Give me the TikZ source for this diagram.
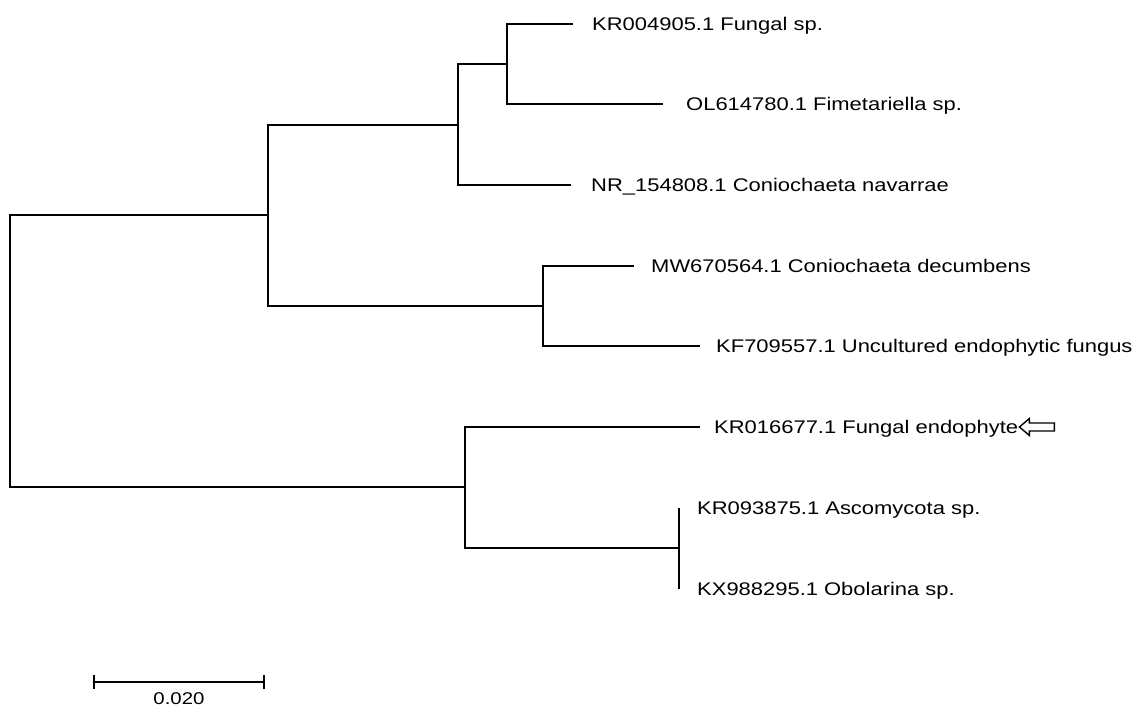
\documentclass[tikz,border=0pt]{standalone}
\usepackage{fontspec}
\setmainfont{Liberation Sans}[FakeStretch=1.2]
\usetikzlibrary{positioning}

\tikzset{
    branch/.style = {line width = 1.5pt, draw = black},
    leaf/.style = {anchor = west, inner xsep = 0pt, inner ysep = 0pt,
                   text height = 13pt, text depth = 0pt,
                   font = \fontsize{18.3}{21}\selectfont},
}

\begin{document}
\begin{tikzpicture}[x = 1pt, y = -1pt, node distance = 17pt]
            \useasboundingbox (0, 0) rectangle (1134, 715);

            % inner nodes of the tree
            \coordinate (root) at (10, 350);
            \coordinate (upper) at (268, 215);
            \coordinate (navar) at (458, 125);
            \coordinate (fungal) at (507, 64);
            \coordinate (decumb) at (543, 306);
            \coordinate (lower) at (465, 487);
            \coordinate (ascom) at (679, 548);

            % tips
            \coordinate (t1) at (573, 24);
            \coordinate (t2) at (663, 104);
            \coordinate (t3) at (571, 185);
            \coordinate (t4) at (634, 266);
            \coordinate (t5) at (700, 346);
            \coordinate (t6) at (700, 427);
            \coordinate (t7) at (679, 508);
            \coordinate (t8) at (679, 589);

            \draw [branch] (root) |- (upper);
            \draw [branch] (root) |- (lower);
            \draw [branch] (upper) |- (navar);
            \draw [branch] (upper) |- (decumb);
            \draw [branch] (navar) |- (fungal);
            \draw [branch] (navar) |- (t3);
            \draw [branch] (fungal) |- (t1);
            \draw [branch] (fungal) |- (t2);
            \draw [branch] (decumb) |- (t4);
            \draw [branch] (decumb) |- (t5);
            \draw [branch] (lower) |- (t6);
            \draw [branch] (lower) |- (ascom);
            \draw [branch] (ascom) |- (t7); % zero length
            \draw [branch] (ascom) |- (t8);

            \node [leaf, right = 19pt of t1] (l1) {KR004905.1 Fungal sp.};
            \node [leaf, right = 23pt of t2] (l2) {OL614780.1 Fimetariella sp.};
            \node [leaf, right = 20pt of t3] (l3) {NR\_154808.1 Coniochaeta navarrae};
            \node [leaf, right = of t4] (l4) {MW670564.1 Coniochaeta decumbens};
            \node [leaf, right = 16pt of t5] (l5) {KF709557.1 Uncultured endophytic fungus};
            \node [leaf, right = 14pt of t6] (l6) {KR016677.1 Fungal endophyte};
            \node [leaf, right = 18pt of t7] (l7) {KR093875.1 Ascomycota sp.};
            \node [leaf, right = 18pt of t8] (l8) {KX988295.1 Obolarina sp.};

            % hollow arrow pointing at the sequence
            \coordinate (tip) at ([xshift = 1pt] l6.east);
            \draw [line width = 1.4pt] (tip) -- ++(10, -8.5) -- ++(0, 4.5)
                  -- ++(25, 0) -- ++(0, 8) -- ++(-25, 0) -- ++(0, 4.5) -- cycle;

            % scale bar
            \coordinate (sa) at (94, 682);
            \coordinate (sb) at (264, 682);
            \draw [branch] (sa) -- (sb);
            \draw [branch] ([yshift = 7pt] sa) -- ([yshift = -7pt] sa);
            \draw [branch] ([yshift = 7pt] sb) -- ([yshift = -7pt] sb);
            \node [font = \fontsize{17}{20}\selectfont, anchor = north,
                   inner sep = 0pt] (scale) at (179, 692) {0.020};
        \end{tikzpicture}
\end{document}
